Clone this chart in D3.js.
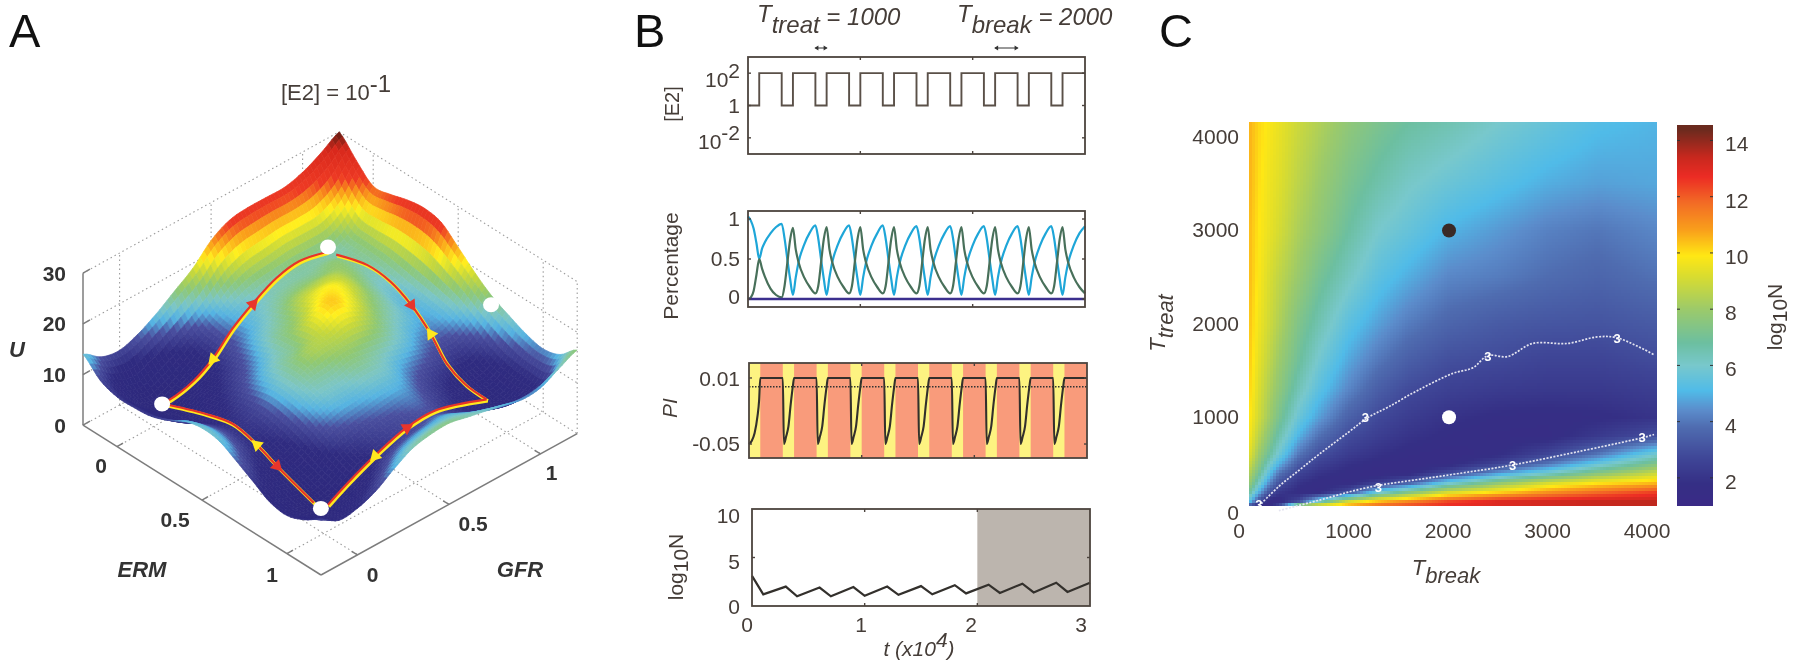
<!DOCTYPE html>
<html><head><meta charset="utf-8">
<script src="https://cdn.jsdelivr.net/npm/d3@7"></script>
<style>
html,body{margin:0;padding:0;background:#fff;overflow:hidden}
svg{display:block;filter:blur(.55px)}
text{font-family:"Liberation Sans",Arial,sans-serif;fill:#453d38}
</style></head><body><svg id="c" width="1800" height="671"></svg>
<script>
// ---------- Panel A data ----------
const surfaceERM=[-.2,-.1,0,.1,.2,.3,.4,.5,.6,.7,.8,.9,1,1.1,1.2];
const surfaceGFR=[-.2,-.1,0,.1,.2,.3,.4,.5,.6,.7,.8,.9,1,1.1,1.2];
const surfaceU=[
[14,11,9.8,9.8,10.2,11.5,13.4,14.2,13.8,12,10,8,7.5,8.8,10.8],
[11.5,8,6.5,6.8,7.5,9,10.8,11.6,11,9.5,7.8,6.2,5.6,7,8.8],
[10.8,6.5,4.4,4.8,6,7.5,9,9.5,9,8,6.8,5.5,5,7,9.2],
[12,7.8,5.5,6.5,7.8,9,10,10.4,9.8,8.8,7.6,6.4,6,8,10.6],
[14,9.5,7.5,8,9.5,11,12.5,13.4,13,12,10.5,8.8,8,10,13],
[16.5,11.5,10,10.5,11.5,13,14.8,15.6,15,13.7,11.8,10,9.5,12,15],
[19,14,12.5,12.5,14,15.5,16,17.5,15.5,14,12.4,11,10.5,13,15.8],
[22.5,17,14,14.3,15.5,17,19,18,16.5,14.8,13,11.5,11,13.5,16],
[24.5,18.5,15,15.5,17.5,19.5,21,18.8,16,14.5,13,12,11.5,13.5,15.2],
[25,19,15.3,16,18,20,19.5,17.5,15.3,13,11.5,10.5,10,12,14.4],
[25,19.5,15.5,16,18,18.3,17,15.5,14,12,10,9,8.5,10.5,13.5],
[25,19.5,15.4,16.5,16.5,15.8,15,14,12.5,11,9,7.5,7,9.3,12.7],
[26,19.8,15.5,15.5,15,14.3,13.5,13,12.3,10.5,8.3,7.3,6.6,9,13],
[27.8,22,18,17.5,17.5,17,16.3,15.5,14.5,12.5,10.5,9.3,9,9.5,14.8],
[30,26.5,23.5,24,25,25.5,24.8,22,19,16.5,14.8,13.3,12.5,13.5,16.5]];
const uStops=[0,9,11.5,13,14.5,16.5,18.5,20,22,24,28,30];
const uColors=["#2c2679","#2f2b80","#4a4f9f","#55b3e2","#7cc6c6","#8fc873","#c8d83a","#fff01e","#faa01a","#ee3a24","#d8281c","#5e1c12"];
const loopTL=[[0,.953,15.4],[0,.8,16.6],[0,.675,15.8],[0,.543,13.3],[0,.434,10.6],[0,.325,6.8],[0,.22,4.5],[0,.09,3.4],[.05,0,5.5]];
const loopTR=[[0,1,13.9],[.184,1,15.7],[.32,1,15.3],[.44,1,13.3],[.555,1,10],[.65,1,6.1],[.76,1,4.3],[.885,1,4]];
const loopBR=[[.885,1,4],[.922,.682,8.9],[.941,.51,9.4],[.964,.315,8.2],[.983,.149,6.5],[.997,.027,4.9]];
const loopBL=[[.05,0,5.5],[.3,0,8.8],[.467,0,10.3],[.608,0,9.2],[.726,0,7.5],[.944,0,4.8]];
const loopArrows=[[loopTL,3,2,"#e8352b"],[loopTL,5,6,"#ffe81e"],[loopTR,3,4,"#e8352b"],[loopTR,4,3,"#ffe81e"],
 [loopBR,2,1,"#e8352b"],[loopBR,3,4,"#ffe81e"],[loopBL,3,2,"#ffe81e"],[loopBL,4,5,"#e8352b"]];
const wellDots=[[.05,0,5.5],[.984,0,4.6],[0,.953,16.4],[1,.915,26.9]];
const uTicks=[0,10,20,30], planeTicks=[0,.5,1];
// ---------- Panel B data ----------
const e2Times=[0,1000,1000,3000,3000,4000,4000,6000,6000,7000,7000,9000,9000,10000,10000,12000,12000,13000,13000,15000,15000,16000,16000,18000,18000,19000,19000,21000,21000,22000,22000,24000,24000,25000,25000,27000,27000,28000,28000,30000];
const e2Values=[1,1,100,100,1,1,100,100,1,1,100,100,1,1,100,100,1,1,100,100,1,1,100,100,1,1,100,100,1,1,100,100,1,1,100,100,1,1,100,100];
const pctTimes=[0,250,500,750,1000,1250,1500,2000,2500,3000,3250,3500,3750,4000,4250,4500,5000,5500,6000,6250,6500,6750,7000,7250,7500,8000,8500,9000,9250,9500,9750,10000,10250,10500,11000,11500,12000,12250,12500,12750,13000,13250,13500,14000,14500,15000,15250,15500,15750,16000,16250,16500,17000,17500,18000,18250,18500,18750,19000,19250,19500,20000,20500,21000,21250,21500,21750,22000,22250,22500,23000,23500,24000,24250,24500,24750,25000,25250,25500,26000,26500,27000,27250,27500,27750,28000,28250,28500,29000,29500,30000];
const pctCyan=[1.03,.98,.88,.7,.5,.63,.71,.82,.9,.94,.76,.5,.25,.05,.27,.46,.68,.83,.92,.76,.5,.25,.05,.27,.46,.68,.83,.92,.76,.5,.25,.05,.27,.45,.67,.82,.92,.76,.5,.25,.05,.27,.45,.67,.82,.91,.76,.5,.25,.05,.27,.45,.67,.82,.91,.76,.5,.25,.05,.27,.45,.67,.82,.91,.76,.5,.25,.05,.27,.45,.67,.82,.91,.76,.5,.25,.05,.27,.45,.67,.82,.91,.76,.5,.25,.05,.27,.45,.67,.82,.91];
const pctGreen=[0,.02,.1,.3,.5,.38,.28,.13,.05,.02,.16,.45,.74,.89,.62,.46,.27,.15,.07,.16,.45,.75,.9,.62,.46,.27,.15,.07,.16,.45,.75,.9,.62,.46,.27,.15,.07,.16,.45,.75,.9,.62,.46,.27,.15,.07,.16,.45,.75,.9,.62,.46,.27,.15,.07,.16,.45,.75,.9,.62,.46,.27,.15,.07,.16,.45,.75,.9,.62,.46,.27,.15,.07,.16,.45,.75,.9,.62,.46,.27,.15,.07,.16,.45,.75,.9,.62,.46,.27,.15,.07];
const pctBlue=[0,0];const pctBlueTimes=[0,30000];
const piTimes=[0,250,500,750,900,1000,3000,3100,3300,3500,3700,3900,4000,6000,6100,6300,6500,6700,6900,7000,9000,9100,9300,9500,9700,9900,10000,12000,12100,12300,12500,12700,12900,13000,15000,15100,15300,15500,15700,15900,16000,18000,18100,18300,18500,18700,18900,19000,21000,21100,21300,21500,21700,21900,22000,24000,24100,24300,24500,24700,24900,25000,27000,27100,27300,27500,27700,27900,28000,30000];
const piValues=[-.05,-.047,-.04,-.025,-.01,.01,.01,-.05,-.043,-.034,-.014,.003,.01,.01,-.05,-.043,-.034,-.014,.003,.01,.01,-.05,-.043,-.034,-.014,.003,.01,.01,-.05,-.043,-.034,-.014,.003,.01,.01,-.05,-.043,-.034,-.014,.003,.01,.01,-.05,-.043,-.034,-.014,.003,.01,.01,-.05,-.043,-.034,-.014,.003,.01,.01,-.05,-.043,-.034,-.014,.003,.01,.01,-.05,-.043,-.034,-.014,.003,.01,.01];
const treatStarts=[0,3000,6000,9000,12000,15000,18000,21000,24000,27000];
const treatEnds=[1000,4000,7000,10000,13000,16000,19000,22000,25000,28000];
const piThreshold=.002;
const logTimes=[0,1000,3000,4000,6000,7000,9000,10000,12000,13000,15000,16000,18000,19000,21000,22000,24000,25000,27000,28000,30000];
const logValues=[3.1,1.2,2,1,1.9,1,1.95,1.05,2,1.15,2.05,1.2,2.15,1.3,2.2,1.35,2.3,1.4,2.4,1.45,2.4];
const shadeRange=[20000,30600];
// ---------- Panel C data ----------
const breakAxis=[0,100,200,300,500,700,1000,1300,1600,2000,2500,3000,3500,4100];
const treatAxis=[50,100,200,300,400,500,600,800,1000,1300,1600,2000,2500,3000,3500,4150];
const heatValues=[
[3,1.5,1.3,3,9,10,11,12,12.4,12.8,13,13.2,13.4,13.5],
[5.5,3,1.5,1.4,2.8,6,9,10.3,11.2,12.3,13,13.2,13.4,13.5],
[7,5,3.2,2.2,1.6,1.5,2.9,5.6,7.2,9,10,11,11.7,12.4],
[8,6.2,4.5,3.1,2,1.6,1.5,2.3,3.3,5.6,7.6,9,9.8,10.4],
[8.5,7,5.4,4,2.6,2,1.6,1.4,1.5,2.8,4.6,6,7.5,8.9],
[9,7.6,6.2,5,3.3,2.5,1.9,1.6,1.4,1.5,2.6,4,5.6,7.4],
[9.4,8,6.9,5.8,4,3,2.3,1.9,1.6,1.4,1.7,2.7,4,6],
[9.8,8.6,7.6,6.6,5,3.9,2.9,2.4,2,1.7,1.5,1.5,2.2,3],
[10,9,8.1,7.2,5.7,4.7,3.5,2.8,2.35,1.95,1.7,1.6,1.7,2],
[10.2,9.2,8.4,7.7,6.4,5.4,4.3,3.4,2.85,2.5,2.3,2.2,2.2,2.4],
[10.3,9.4,8.7,8,6.9,5.9,4.8,4,3.4,2.95,2.8,2.6,2.6,2.85],
[10.4,9.6,9,8.4,7.3,6.5,5.4,4.7,4.1,3.6,3.3,3.15,3.1,3.3],
[10.5,9.8,9.2,8.7,7.9,7.1,6.2,5.4,4.9,4.3,4.1,3.8,3.6,3.9],
[10.5,9.9,9.5,9.1,8.3,7.7,6.8,6,5.6,5,4.6,4.2,4,4.3],
[10.6,10,9.6,9.3,8.6,8,7.2,6.6,6.1,5.7,5.3,4.9,4.7,4.8],
[10.6,10.1,9.8,9.5,8.9,8.4,7.7,7.2,6.8,6.5,6,5.6,5.2,5]];
const heatStops=[1,1.8,2.7,3.8,4.4,5.1,6,6.8,8,9.15,9.9,10.8,11.8,12.7,13.4,14.4];
const heatColors=["#3a2a86","#352f85","#3f4697","#4f6cb0","#5b8ccb","#50bbe8","#78c8cc","#6cbfa0","#9cca6a","#d8dc30","#ffe714","#f9a01b","#f26a25","#ec2c24","#c8281e","#6a2a1e"];
const contourUpper=[[100,50],[300,260],[500,430],[700,600],[1000,840],[1200,1000],[1400,1110],[1700,1290],[2050,1470],[2250,1530],[2400,1660],[2600,1650],[2850,1790],[3200,1790],[3500,1860],[3700,1850],[4070,1670]];
const contourLower=[[300,0],[700,111],[1200,250],[1900,365],[2600,480],[3300,630],[3950,780],[4070,815]];
const contourLabels=[[100,70],[1170,1000],[2400,1660],[3700,1850],[1300,255],[2650,490],[3950,790]];
const dotsC=[[2000,3000,"#3a2a26"],[2000,1000,"#ffffff"]];
const cXTicks=[0,1000,2000,3000,4000], cYTicks=[0,1000,2000,3000,4000], barTicks=[2,4,6,8,10,12,14];

// ---------- Drawing ----------
const svg=d3.select("#c"), ink="#4c443e";
function label(x,y,t,o={}){const s=svg.append("text").attr("x",x).attr("y",y).attr("font-size",o.size||21)
 .attr("text-anchor",o.anchor||"middle").text(t);
 if(o.bold)s.attr("font-weight","bold");if(o.italic)s.attr("font-style","italic");
 if(o.rot)s.attr("transform",`rotate(${o.rot},${x},${y})`);if(o.fill)s.style("fill",o.fill);return s;}
function tsp(s,t,o={}){const p=s.append("tspan").text(t);if(o.dy)p.attr("dy",o.dy);if(o.size)p.attr("font-size",o.size);
 if(o.italic)p.attr("font-style","italic");return p;}
[["A",9],["B",634],["C",1159]].forEach(d=>label(d[1],47,d[0],{size:47,anchor:"start",fill:"#111"}));

// A: projection from (ERM,GFR,U) to the page
const ex=d3.scaleLinear().domain([0,1]).range([0,170]), ey=d3.scaleLinear().domain([0,1]).range([0,107]);
const gx=d3.scaleLinear().domain([0,1]).range([0,183]), gy=d3.scaleLinear().domain([0,1]).range([0,-101]);
const uy=d3.scaleLinear().domain([0,30]).range([0,-152]);
const px=(e,g)=>153.6+ex(e)+gx(g), py=(e,g,u)=>426.4+ey(e)+gy(g)+uy(u);
const P=(e,g,u)=>[px(e,g),py(e,g,u)];
const aG=svg.append("g");
const eMin=-.2,eMax=1.2;
const seg=(a,b,o)=>aG.append("line").attr("x1",a[0]).attr("y1",a[1]).attr("x2",b[0]).attr("y2",b[1])
 .attr("stroke",o.c).attr("stroke-width",o.w).attr("stroke-dasharray",o.d||null);
const dots={c:"#9c9c9c",w:1.1,d:"1.5 3"};
uTicks.forEach(u=>{seg(P(eMin,eMin,u),P(eMin,eMax,u),dots);seg(P(eMin,eMax,u),P(eMax,eMax,u),dots);});
seg(P(eMin,eMax,0),P(eMin,eMax,30),dots);seg(P(eMax,eMax,0),P(eMax,eMax,30),dots);
planeTicks.forEach(t=>{seg(P(eMin,t,0),P(eMin,t,30),dots);seg(P(t,eMax,0),P(t,eMax,30),dots);
 seg(P(eMin,t,0),P(eMax,t,0),dots);seg(P(t,eMin,0),P(t,eMax,0),dots);});
const axc={c:"#7c7c7c",w:1.5};
seg(P(eMin,eMin,0),P(eMin,eMin,30),axc);seg(P(eMin,eMin,0),P(eMax,eMin,0),axc);seg(P(eMax,eMin,0),P(eMax,eMax,0),axc);
uTicks.forEach(u=>{const a=P(eMin,eMin,u);seg(a,[a[0]-0+7,a[1]-4],axc);
 label(66,a[1]+7.5,u,{anchor:"end",bold:true,size:21,fill:"#333"});});
const eOff=[[-16,26],[-27,27],[-15,28]], gOff=[[15,27],[24,27],[11,26]];
planeTicks.forEach((t,i)=>{const a=P(t,eMin,0);seg(a,[a[0]+6,a[1]-3.5],axc);
 label(a[0]+eOff[i][0],a[1]+eOff[i][1],t,{bold:true,size:21,fill:"#333"});
 const b=P(eMax,t,0);seg(b,[b[0]-6,b[1]-3.5],axc);
 label(b[0]+gOff[i][0],b[1]+gOff[i][1],t,{bold:true,size:21,fill:"#333"});});
label(17,357,"U",{italic:true,bold:true,size:22,fill:"#333"});
label(142,577,"ERM",{italic:true,bold:true,size:22,fill:"#333"});
label(520,577,"GFR",{italic:true,bold:true,size:22,fill:"#333"});
const tA=label(336,100,"[E2] = 10",{size:22});tsp(tA,"-1",{dy:-8,size:24});

// surface with interp shading: each grid cell is painted in small facets
const uColor=d3.scaleLinear().domain(uStops).range(uColors).clamp(true).interpolate(d3.interpolateRgb);
function cr(a,b,c,d,t){return .5*((2*b)+(-a+c)*t+(2*a-5*b+4*c-d)*t*t+(-a+3*b-3*c+d)*t*t*t);}
const n=surfaceERM.length, sub=5;
const clampI=i=>Math.max(0,Math.min(n-1,i));
function surf(ie,ig){const i=Math.min(n-2,Math.floor(ie)),j=Math.min(n-2,Math.floor(ig)),te=ie-i,tg=ig-j;
 const col=k=>{const r=surfaceU[clampI(k)];return cr(r[clampI(i-1)],r[i],r[i+1],r[clampI(i+2)],te);};
 return cr(col(j-1),col(j),col(j+1),col(j+2),tg);}
const facets=[];const step=1/sub, ieS=d3.scaleLinear().domain([0,n-1]).range([eMin,eMax]);
for(let a=0;a<(n-1)*sub;a++)for(let b=0;b<(n-1)*sub;b++){
 const i0=a*step,i1=(a+1)*step,j0=b*step,j1=(b+1)*step;
 const c=[[i0,j0],[i1,j0],[i1,j1],[i0,j1]].map(q=>({e:ieS(q[0]),g:ieS(q[1]),u:surf(q[0],q[1])}));
 facets.push({c,u:d3.mean(c,d=>d.u),d:ey((c[0].e+c[2].e)/2)+gy((c[0].g+c[2].g)/2)});}
facets.sort((p,q)=>p.d-q.d);
aG.append("g").selectAll("path").data(facets).join("path")
 .attr("d",f=>"M"+f.c.map(d=>P(d.e,d.g,d.u).map(v=>v.toFixed(1)).join(",")).join("L")+"Z")
 .attr("fill",f=>uColor(f.u)).attr("stroke",f=>uColor(f.u)).attr("stroke-width",.7);
const lg=d3.line().x(d=>px(d[0],d[1])).y(d=>py(d[0],d[1],d[2])).curve(d3.curveCatmullRom);
[loopTL,loopTR,loopBR,loopBL].forEach(p=>{
 aG.append("path").attr("d",lg(p)).attr("fill","none").attr("stroke","#ffe81e").attr("stroke-width",3.4).attr("transform","translate(.8,1)");
 aG.append("path").attr("d",lg(p)).attr("fill","none").attr("stroke","#e6332a").attr("stroke-width",2.2).attr("transform","translate(-.4,-.4)");});
loopArrows.forEach(a=>{const p=a[0][a[1]],q=a[0][a[2]],A=P(...p),B=P(...q);
 const ang=Math.atan2(B[1]-A[1],B[0]-A[0])*180/Math.PI;
 aG.append("path").attr("d",d3.symbol(d3.symbolTriangle,70)()).attr("fill",a[3])
  .attr("transform",`translate(${A[0]},${A[1]}) rotate(${ang+90})`);});
wellDots.forEach(d=>{const c=P(...d);aG.append("ellipse").attr("cx",c[0]).attr("cy",c[1]).attr("rx",8).attr("ry",7.5).attr("fill","#fff");});

// B
function frame(x0,x1,y0,y1){const g=svg.append("g");return{g,x:d3.scaleLinear().domain([0,30000]).range([x0,x1]),x0,x1,y0,y1};}
function box(f,yTicks,y){const g=f.g,sw=1.8;
 g.append("rect").attr("x",f.x0).attr("y",f.y0).attr("width",f.x1-f.x0).attr("height",f.y1-f.y0).attr("fill","none").attr("stroke",ink).attr("stroke-width",sw);
 const tk=(x1,y1,x2,y2)=>g.append("line").attr("x1",x1).attr("y1",y1).attr("x2",x2).attr("y2",y2).attr("stroke",ink).attr("stroke-width",1.4);
 [10000,20000].forEach(t=>{tk(f.x(t),f.y0,f.x(t),f.y0+3);tk(f.x(t),f.y1,f.x(t),f.y1-3);});
 yTicks.forEach(v=>{tk(f.x0,y(v),f.x0+3,y(v));tk(f.x1,y(v),f.x1-3,y(v));});}
const path=(f,xs,ys,y,c,w,curve,dash)=>f.g.append("path").attr("d",d3.line().x((d,i)=>f.x(xs[i])).y((d,i)=>y(ys[i])).curve(curve||d3.curveLinear)(xs))
 .attr("fill","none").attr("stroke",c).attr("stroke-width",w).attr("stroke-dasharray",dash||null);
// top labels
const aX=d3.scaleLinear().domain([0,30000]).range([748,1085]);
const t1=label(757,22,"T",{anchor:"start",italic:true,size:24});tsp(t1,"treat",{dy:11,italic:true,size:24});tsp(t1," = 1000",{dy:-8,size:24});
const t2=label(957,22,"T",{anchor:"start",italic:true,size:24});tsp(t2,"break",{dy:11,italic:true,size:24});tsp(t2," = 2000",{dy:-8,size:24});
[[6000,7000],[22000,24000]].forEach(r=>{const xa=aX(r[0]),xb=aX(r[1]);
 svg.append("line").attr("x1",xa).attr("x2",xb).attr("y1",48).attr("y2",48).attr("stroke","#333").attr("stroke-width",1);
 svg.append("path").attr("d",`M${xa-1},48l4,-2.5v5ZM${xb+1},48l-4,-2.5v5Z`).attr("fill","#333");});
// E2
const f1=frame(748,1085,57,154), y1=d3.scaleLog().domain([1e-3,1e3]).range([154,57]);
path(f1,e2Times,e2Values,y1,"#5a5048",1.9);box(f1,[.01,1,100],y1);
const l102=label(740,87,"10",{anchor:"end",size:21});tsp(l102,"2",{dy:-9,size:21});
label(740,113,"1",{anchor:"end",size:21});
const l10m=label(740,149,"10",{anchor:"end",size:21});tsp(l10m,"-2",{dy:-9,size:21});
label(679,104,"[E2]",{rot:-90,size:20});
// Percentage
const f2=frame(748,1085,211,307), y2=d3.scaleLinear().domain([-.1,1.1]).range([307,211]);
path(f2,pctTimes,pctCyan,y2,"#1ea6d8",2.2,d3.curveMonotoneX);
path(f2,pctTimes,pctGreen,y2,"#48705a",2.2,d3.curveMonotoneX);
path(f2,pctBlueTimes,pctBlue,y2,"#3b2f8e",2.6);box(f2,[0,.5,1],y2);
[[1,226],[.5,266],[0,304]].forEach(d=>label(740,d[1],d[0],{anchor:"end",size:21}));
label(678,266,"Percentage",{rot:-90,size:21});
// PI
const f3=frame(749,1087,363,458), y3=d3.scaleLinear().domain([-.0627,.0236]).range([458,363]);
f3.g.append("rect").attr("x",749).attr("y",363).attr("width",338).attr("height",95).attr("fill","#f99b7b");
f3.g.selectAll(".tr").data(treatStarts).join("rect").attr("x",d=>f3.x(d)).attr("y",363)
 .attr("width",(d,i)=>f3.x(treatEnds[i])-f3.x(d)).attr("height",95).attr("fill","#fdf381");
path(f3,[0,30000],[piThreshold,piThreshold],y3,"#333",1.5,null,"1.5 1.5");
path(f3,piTimes,piValues,y3,"#33302c",2.1,d3.curveMonotoneX);box(f3,[-.05,.01],y3);
label(740,386,"0.01",{anchor:"end",size:21});label(740,451,"-0.05",{anchor:"end",size:21});
label(677,408,"PI",{rot:-90,italic:true,size:21});
// log10N
const f4=frame(752,1090,509,606), y4=d3.scaleLinear().domain([0,10]).range([606,509]);
f4.g.append("rect").attr("x",f4.x(shadeRange[0])).attr("y",509).attr("width",1090-f4.x(shadeRange[0])).attr("height",97).attr("fill","#bcb5ae");
path(f4,logTimes,logValues,y4,"#33302c",2.2);box(f4,[5],y4);
[[10,523],[5,569],[0,614]].forEach(d=>label(740,d[1],d[0],{anchor:"end",size:21}));
[[0,748],[1,862],[2,972],[3,1082]].forEach(d=>label(d[1]-1,632,d[0],{size:21}));
const lgN=label(683,567,"log",{rot:-90,size:21});tsp(lgN,"10",{dy:5,size:21});tsp(lgN,"N",{dy:-5,size:21});
const tL=label(919,656,"t",{italic:true,size:21});tsp(tL," (x10",{size:21});tsp(tL,"4",{dy:-9,size:21});tsp(tL,")",{dy:9,size:21});

// C
const cx=d3.scaleLinear().domain([0,4100]).range([1249,1657]), cy=d3.scaleLinear().domain([50,4150]).range([506,123]);
const hColor=d3.scaleLinear().domain(heatStops).range(heatColors).clamp(true);
const bI=d3.scaleLinear().domain(breakAxis).range(d3.range(breakAxis.length)).clamp(true);
const tI=d3.scaleLinear().domain(treatAxis).range(d3.range(treatAxis.length)).clamp(true);
function hv(b,t){const a=bI(b),c=tI(t),i=Math.min(breakAxis.length-2,Math.floor(a)),j=Math.min(treatAxis.length-2,Math.floor(c)),u=a-i,v=c-j;
 return (1-v)*((1-u)*heatValues[j][i]+u*heatValues[j][i+1])+v*((1-u)*heatValues[j+1][i]+u*heatValues[j+1][i+1]);}
const cells=[];const cw=cx.invert(1252)-cx.invert(1249), ch=cy.invert(123)-cy.invert(126);
for(let b=0;b<4100-1;b+=cw)for(let t=50;t<4150-1;t+=ch)cells.push({b,t});
svg.append("g").attr("shape-rendering","crispEdges").selectAll("rect").data(cells).join("rect")
 .attr("x",d=>cx(d.b)).attr("y",d=>cy(d.t+ch)).attr("width",3.2).attr("height",3.2)
 .attr("fill",d=>hColor(hv(d.b+cw/2,d.t+ch/2)));
const cl=d3.line().x(d=>cx(d[0])).y(d=>cy(d[1])).curve(d3.curveCatmullRom);
[contourUpper,contourLower].forEach(c=>svg.append("path").attr("d",cl(c)).attr("fill","none").attr("stroke","#e4e4f0").attr("stroke-width",1.7).attr("stroke-dasharray","2 1.5"));
contourLabels.forEach(d=>label(cx(d[0]),cy(d[1])+5,"3",{size:13,bold:true,fill:"#fff"}));
dotsC.forEach(d=>svg.append("ellipse").attr("cx",cx(d[0])+1).attr("cy",cy(d[1])).attr("rx",7).attr("ry",7).attr("fill",d[2]));
cXTicks.forEach(t=>label(cx(t)-(t?0:10),538,t,{size:21}));
cYTicks.forEach(t=>label(1239,cy(t)+(t?7:9),t,{anchor:"end",size:21}));
const tt=label(1165,323,"T",{rot:-90,italic:true,size:22});tsp(tt,"treat",{dy:8,italic:true,size:22});
const tb=label(1446,575,"T",{italic:true,size:22});tsp(tb,"break",{dy:8,italic:true,size:22});
const by=d3.scaleLinear().domain([1,14.55]).range([506,125]);
const rows=d3.range(125,506,1);
svg.append("g").attr("shape-rendering","crispEdges").selectAll("rect").data(rows).join("rect").attr("x",1677).attr("y",d=>d).attr("width",36).attr("height",1.2).attr("fill",d=>hColor(by.invert(d+.5)));
barTicks.forEach(v=>{svg.append("line").attr("x1",1710).attr("x2",1713).attr("y1",by(v)).attr("y2",by(v)).attr("stroke","#333");
 svg.append("line").attr("x1",1677).attr("x2",1680).attr("y1",by(v)).attr("y2",by(v)).attr("stroke","#333");
 label(1725,by(v)+11,v,{anchor:"start",size:21});});
const lgC=label(1782,317,"log",{rot:-90,size:21});tsp(lgC,"10",{dy:5,size:21});tsp(lgC,"N",{dy:-5,size:21});
</script></body></html>
